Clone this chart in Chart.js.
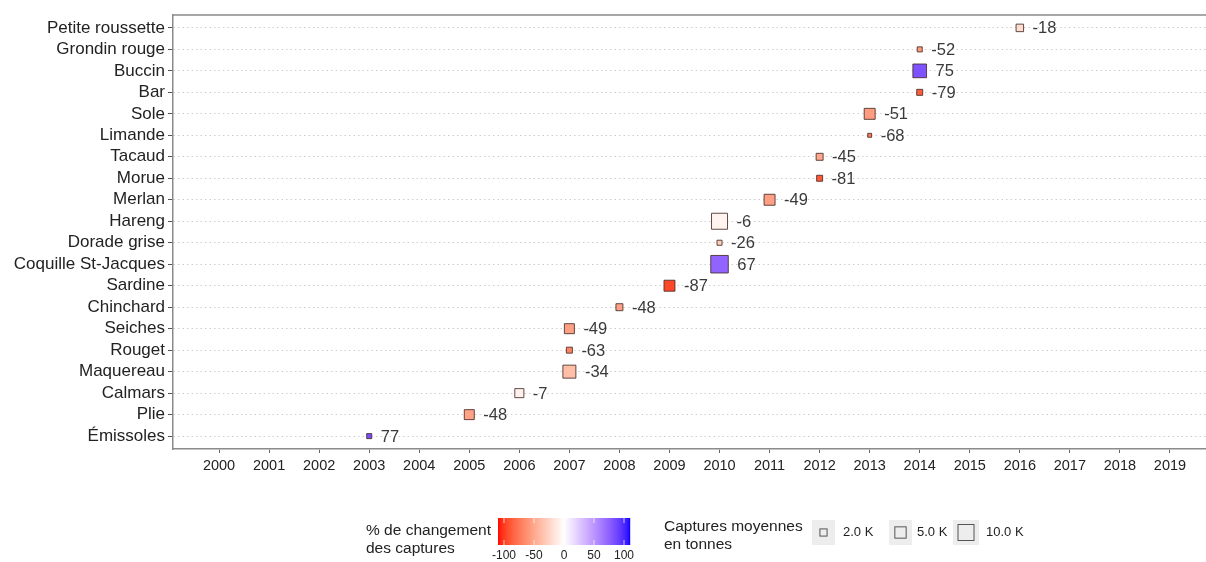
<!DOCTYPE html>
<html>
<head>
<meta charset="utf-8">
<script src="https://cdn.jsdelivr.net/npm/chart.js@4"></script>
<style>
  body { margin: 0; background: #fff; }
  #wrap { width: 1206px; height: 562px; }
</style>
</head>
<body>
<div id="wrap"><canvas id="chart" width="1206" height="562"></canvas></div>
<script>
// espèces, de haut en bas
const species = ['Petite roussette', 'Grondin rouge', 'Buccin', 'Bar', 'Sole', 'Limande', 'Tacaud',
    'Morue', 'Merlan', 'Hareng', 'Dorade grise', 'Coquille St-Jacques', 'Sardine', 'Chinchard',
    'Seiches', 'Rouget', 'Maquereau', 'Calmars', 'Plie', 'Émissoles'];
const years = [2016, 2014, 2014, 2014, 2013, 2013, 2012, 2012, 2011, 2010, 2010, 2010, 2009, 2008,
    2007, 2007, 2007, 2006, 2005, 2003];
// % de changement des captures
const changes = [-18, -52, 75, -79, -51, -68, -45, -81, -49, -6, -26, 67, -87, -48, -49, -63, -34, -7, -48, 77];
// captures moyennes, milliers de tonnes
const captures = [2.2, 1.0, 7.3, 1.4, 4.7, 0.6, 1.9, 1.4, 4.7, 10.0, 1.0, 12.0, 4.7, 1.9, 3.9, 1.4, 6.6, 3.2, 3.9, 1.0];
const yearTicks = [2000, 2001, 2002, 2003, 2004, 2005, 2006, 2007, 2008, 2009, 2010, 2011, 2012, 2013,
    2014, 2015, 2016, 2017, 2018, 2019];
const legendChanges = [-100, -50, 0, 50, 100];
const legendSizes = [2, 5, 10];

const FONT = '"Liberation Sans", Arial, sans-serif';

// --- couleurs : dégradé rouge / blanc / bleu en espace Lab (comme ggplot)
function lin(c) { c /= 255; return c <= 0.04045 ? c / 12.92 : Math.pow((c + 0.055) / 1.055, 2.4); }
function unlin(c) { c = c <= 0.0031308 ? 12.92 * c : 1.055 * Math.pow(c, 1 / 2.4) - 0.055; return Math.round(Math.max(0, Math.min(1, c)) * 255); }
function rgbToLab(rgb) {
    const r = lin(rgb[0]), g = lin(rgb[1]), b = lin(rgb[2]);
    const x = (0.4124 * r + 0.3576 * g + 0.1805 * b) / 0.95047;
    const y = 0.2126 * r + 0.7152 * g + 0.0722 * b;
    const z = (0.0193 * r + 0.1192 * g + 0.9505 * b) / 1.08883;
    const f = t => t > 0.008856 ? Math.cbrt(t) : 7.787 * t + 16 / 116;
    return [116 * f(y) - 16, 500 * (f(x) - f(y)), 200 * (f(y) - f(z))];
}
function labToRgb(lab) {
    const fy = (lab[0] + 16) / 116, fx = fy + lab[1] / 500, fz = fy - lab[2] / 200;
    const inv = t => t * t * t > 0.008856 ? t * t * t : (t - 16 / 116) / 7.787;
    const x = inv(fx) * 0.95047, y = inv(fy), z = inv(fz) * 1.08883;
    const r = 3.2406 * x - 1.5372 * y - 0.4986 * z;
    const g = -0.9689 * x + 1.8758 * y + 0.0415 * z;
    const b = 0.0557 * x - 0.2040 * y + 1.0570 * z;
    return `rgb(${unlin(r)},${unlin(g)},${unlin(b)})`;
}
const labWhite = rgbToLab([255, 255, 255]);
const labRed = rgbToLab([255, 0, 0]);
const labBlue = rgbToLab([0, 0, 255]);
function changeColor(v) {
    const t = Math.max(-1, Math.min(1, v / 100));
    const end = t < 0 ? labRed : labBlue;
    const k = Math.abs(t);
    return labToRgb(labWhite.map((w, i) => w + (end[i] - w) * k));
}
// côté du carré proportionnel à la racine des captures (10 K -> 16 px)
function squareSide(k) { return 16 * Math.sqrt(k / 10); }

const valueLabels = {
    id: 'valueLabels',
    afterDatasetsDraw(chart) {
        const ctx = chart.ctx;
        const meta = chart.getDatasetMeta(0);
        ctx.save();
        ctx.font = '16.5px ' + FONT;
        ctx.fillStyle = '#3a3a3a';
        ctx.textBaseline = 'middle';
        ctx.textAlign = 'left';
        meta.data.forEach((el, i) => {
            ctx.fillText(String(changes[i]), el.x + squareSide(captures[i]) / 2 + 9, el.y + 1);
        });
        ctx.restore();
    }
};

const panelTop = {
    id: 'panelTop',
    afterDraw(chart) {
        const {ctx, chartArea} = chart;
        ctx.save();
        ctx.strokeStyle = '#8a8a8a';
        ctx.lineWidth = 1.5;
        ctx.beginPath();
        ctx.moveTo(chartArea.left, chartArea.top);
        ctx.lineTo(chartArea.right, chartArea.top);
        ctx.stroke();
        ctx.restore();
    }
};

const bottomLegend = {
    id: 'bottomLegend',
    afterDraw(chart) {
        const ctx = chart.ctx;
        ctx.save();
        ctx.fillStyle = '#222';
        ctx.font = '15.5px ' + FONT;
        ctx.textBaseline = 'middle';
        ctx.textAlign = 'left';
        ctx.fillText('% de changement', 366, 531);
        ctx.fillText('des captures', 366, 549);

        // barre de couleur
        const bx = 498, bw = 132, by = 518, bh = 27;
        for (let i = 0; i < bw; i++) {
            ctx.fillStyle = changeColor(-100 + 200 * (i + 0.5) / bw);
            ctx.fillRect(bx + i, by, 1.2, bh);
        }
        ctx.font = '12px ' + FONT;
        ctx.fillStyle = '#222';
        ctx.textAlign = 'center';
        legendChanges.forEach(v => {
            const x = bx + 6 + (bw - 12) * (v + 100) / 200;
            ctx.strokeStyle = 'rgba(255,255,255,0.9)';
            ctx.lineWidth = 0.8;
            ctx.beginPath();
            ctx.moveTo(x, by); ctx.lineTo(x, by + 5);
            ctx.moveTo(x, by + bh - 5); ctx.lineTo(x, by + bh);
            ctx.stroke();
            ctx.fillText(String(v), x, 556);
        });

        // tailles
        ctx.font = '15.5px ' + FONT;
        ctx.textAlign = 'left';
        ctx.fillText('Captures moyennes', 664, 527);
        ctx.fillText('en tonnes', 664, 545);
        const boxes = [[812, 843], [889, 917], [953, 986]];
        legendSizes.forEach((k, i) => {
            const [x0, tx] = boxes[i];
            const w = i === 2 ? 26 : 23;
            ctx.fillStyle = '#ededed';
            ctx.fillRect(x0, 520, w, 25);
            const s = squareSide(k);
            const cx = x0 + w / 2, cy = 532.5;
            ctx.strokeStyle = '#555';
            ctx.lineWidth = 1;
            ctx.strokeRect(cx - s / 2, cy - s / 2, s, s);
            ctx.fillStyle = '#222';
            ctx.font = '13px ' + FONT;
            ctx.fillText(k.toFixed(1) + ' K', tx, cy);
        });
        ctx.restore();
    }
};

new Chart(document.getElementById('chart'), {
    type: 'scatter',
    data: {
        datasets: [{
            data: years.map((y, i) => ({x: y, y: i})),
            pointStyle: 'rect',
            pointRadius: ctx => squareSide(captures[ctx.dataIndex]) / Math.SQRT2,
            backgroundColor: ctx => changeColor(changes[ctx.dataIndex]),
            borderColor: 'rgba(70,45,40,0.85)',
            borderWidth: 1
        }]
    },
    options: {
        responsive: false,
        devicePixelRatio: 1,
        animation: false,
        events: [],
        layout: {autoPadding: false, padding: {top: 15, right: 0, left: 0, bottom: 0}},
        plugins: {legend: {display: false}, tooltip: {enabled: false}},
        scales: {
            x: {
                type: 'linear',
                min: 1999.08,
                max: 2019.72,
                afterBuildTicks: axis => { axis.ticks = yearTicks.map(v => ({value: v})); },
                afterFit: axis => { axis.height = 113; axis.paddingLeft = 0; axis.paddingRight = 0; },
                ticks: {
                    callback: v => String(v),
                    color: '#222',
                    font: {family: FONT, size: 14.5},
                    padding: 4,
                    maxRotation: 0,
                    autoSkip: false
                },
                grid: {drawOnChartArea: false, drawTicks: true, tickLength: 4, tickColor: '#666'},
                border: {display: true, color: '#8a8a8a', width: 1.5}
            },
            y: {
                type: 'linear',
                min: -0.6,
                max: 19.6,
                reverse: true,
                afterBuildTicks: axis => { axis.ticks = species.map((s, i) => ({value: i})); },
                afterFit: axis => { axis.width = 173; axis.paddingTop = 0; axis.paddingBottom = 0; },
                ticks: {
                    callback: v => species[v],
                    color: '#222',
                    font: {family: FONT, size: 17},
                    padding: 3,
                    autoSkip: false
                },
                grid: {
                    color: '#cdcdcd',
                    lineWidth: 1,
                    drawTicks: true,
                    tickLength: 5,
                    tickColor: '#555',
                    tickBorderDash: []
                },
                border: {display: true, color: '#8a8a8a', width: 1.5, dash: [1.5, 3]}
            }
        }
    },
    plugins: [valueLabels, panelTop, bottomLegend]
});
</script>
</body>
</html>
